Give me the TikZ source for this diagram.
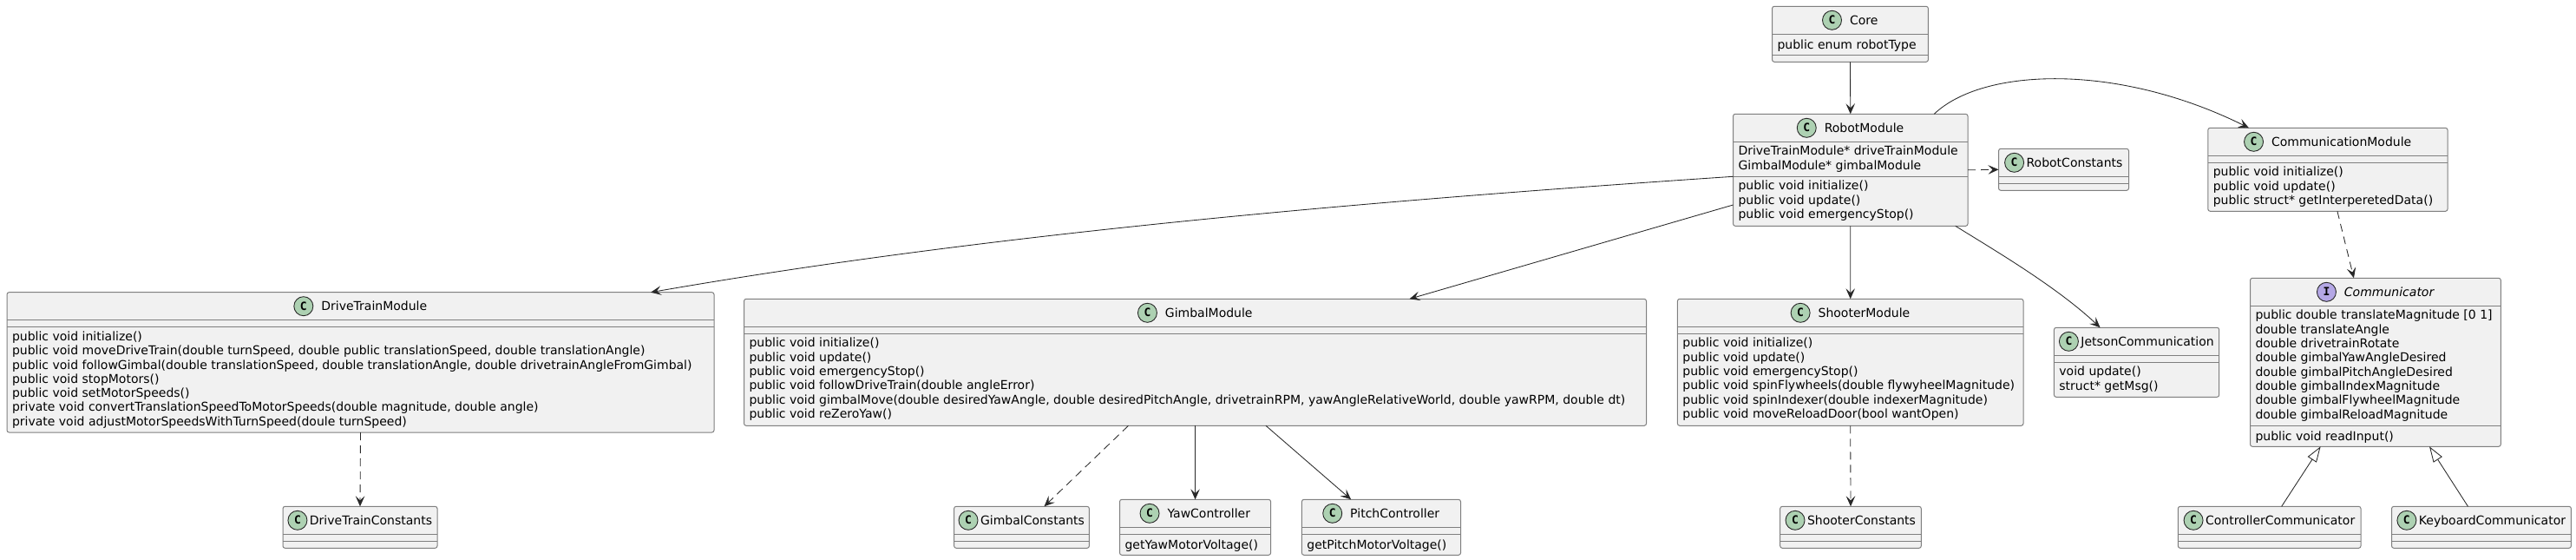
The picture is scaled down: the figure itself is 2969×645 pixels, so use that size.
\documentclass[tikz,border=0pt]{standalone}
\usepackage{fontspec}
\setmainfont{DejaVu Sans}
\newfontfamily\spotfont{DejaVu Sans Mono}
\usetikzlibrary{arrows.meta,positioning}
\definecolor{boxfill}{HTML}{F1F1F1}
\definecolor{boxline}{HTML}{7F7F7F}
\definecolor{inkline}{HTML}{282828}
\definecolor{classgreen}{HTML}{ADD1B2}
\definecolor{ifacepurple}{HTML}{B4A7E5}
\tikzset{
  classbox/.style={draw=boxline,fill=boxfill,line width=1pt,rounded corners=2.5pt,inner sep=0pt,outer sep=0pt},
  classtitle/.style={inner sep=0pt,outer sep=0pt,text height=10.2pt,text depth=0pt,font=\fontsize{14}{16.33}\selectfont},
  classspot/.style={draw=inkline,circle,line width=0.9pt,minimum size=22pt,inner sep=0pt,outer sep=0pt,text height=9.2pt,text depth=0pt,font=\spotfont\bfseries\fontsize{13}{13}\selectfont},
  members/.style={anchor=north west,align=left,inner sep=0pt,outer sep=0pt,font=\fontsize{14}{16.33}\selectfont,execute at begin node={\rule{0pt}{12pt}}},
  sepline/.style={draw=boxline,line width=1pt},
  assoc/.style={draw=inkline,line width=0.85pt,-{Stealth[length=12pt,width=10.5pt,inset=5pt,fill=inkline]}},
  dep/.style={assoc,dash pattern=on 9pt off 6pt},
  inherit/.style={draw=inkline,line width=0.85pt,-{Triangle[open,length=18pt,width=12pt,fill=white]}}
}
\newcommand{\umlclass}[7][9.5]{
  \node[classbox,minimum width={#5-#3},minimum height={#6-#4}] (#2) at ({(#3+#5)/2},{(#4+#6)/2}) {};
  \node[classtitle] (#2title) at ({(#3+#5)/2+(22+#1)/2},{#4+16}) {#7};
  \node[classspot,fill=classgreen,left=#1pt of #2title] (#2spot) {C};
}
\newcommand{\umlseps}[2]{
  \draw[sepline] ([yshift=-32pt]#1.north west) -- ([yshift=-32pt]#1.north east);
  \draw[sepline] ([yshift=-#2pt]#1.north west) -- ([yshift=-#2pt]#1.north east);
}
\newcommand{\umlfields}[2]{\node[members] (#1fields) at ([shift={(6pt,-37pt)}]#1.north west) {#2};}
\newcommand{\umlmethods}[3]{\node[members] (#1methods) at ([shift={(6pt,{-(#2+5)*1pt})}]#1.north west) {#3};}
\begin{document}
\begin{tikzpicture}[x=1pt,y=-1pt]
  \useasboundingbox (0,0) rectangle (2969,645);

  \umlclass{core}{2042.5}{7.3}{2222.4}{71.3}{Core}
  \umlseps{core}{56}
  \umlfields{core}{public enum robotType}

  \umlclass{robot}{1997.5}{131.3}{2268}{260.3}{RobotModule}
  \umlseps{robot}{72}
  \umlfields{robot}{DriveTrainModule* driveTrainModule\\GimbalModule* gimbalModule}
  \umlmethods{robot}{72}{public void initialize()\\public void update()\\public void emergencyStop()}

  \umlclass[3]{robotconst}{2303.5}{171.3}{2453.5}{219.3}{RobotConstants}
  \umlseps{robotconst}{40}

  \umlclass{comm}{2544.8}{147.3}{2821}{243.3}{CommunicationModule}
  \umlseps{comm}{40}
  \umlmethods{comm}{40}{public void initialize()\\public void update()\\public struct* getInterperetedData()}

  \umlclass{drive}{8}{336.7}{823}{498}{DriveTrainModule}
  \umlseps{drive}{40}
  \umlmethods{drive}{40}{public void initialize()\\
    public void moveDriveTrain(double turnSpeed, double public translationSpeed, double translationAngle)\\
    public void followGimbal(double translationSpeed, double translationAngle, double drivetrainAngleFromGimbal)\\
    public void stopMotors()\\
    public void setMotorSpeeds()\\
    private void convertTranslationSpeedToMotorSpeeds(double magnitude, double angle)\\
    private void adjustMotorSpeedsWithTurnSpeed(doule turnSpeed)}

  \umlclass[3]{driveconst}{326}{583.3}{504}{631.3}{DriveTrainConstants}
  \umlseps{driveconst}{40}

  \umlclass{gimbal}{857.5}{344.3}{1897.5}{490.3}{GimbalModule}
  \umlseps{gimbal}{40}
  \umlmethods{gimbal}{40}{public void initialize()\\
    public void update()\\
    public void emergencyStop()\\
    public void followDriveTrain(double angleError)\\
    public void gimbalMove(double desiredYawAngle, double desiredPitchAngle, drivetrainRPM, yawAngleRelativeWorld, double yawRPM, double dt)\\
    public void reZeroYaw()}

  \umlclass[3]{gimbalconst}{1099.6}{583.3}{1255.4}{631.3}{GimbalConstants}
  \umlseps{gimbalconst}{40}

  \umlclass{yaw}{1290.5}{575.3}{1464.6}{639.3}{YawController}
  \umlseps{yaw}{40}
  \umlmethods{yaw}{40}{getYawMotorVoltage()}

  \umlclass{pitch}{1500.4}{575.3}{1683.5}{639.3}{PitchController}
  \umlseps{pitch}{40}
  \umlmethods{pitch}{40}{getPitchMotorVoltage()}

  \umlclass{shooter}{1933.4}{344.3}{2332}{490.3}{ShooterModule}
  \umlseps{shooter}{40}
  \umlmethods{shooter}{40}{public void initialize()\\
    public void update()\\
    public void emergencyStop()\\
    public void spinFlywheels(double flywyheelMagnitude)\\
    public void spinIndexer(double indexerMagnitude)\\
    public void moveReloadDoor(bool wantOpen)}

  \umlclass[3]{shooterconst}{2051.7}{583.3}{2214.3}{631.3}{ShooterConstants}
  \umlseps{shooterconst}{40}

  \umlclass[3]{jetson}{2367.4}{377.3}{2557.7}{457.3}{JetsonCommunication}
  \umlseps{jetson}{40}
  \umlmethods{jetson}{40}{void update()\\struct* getMsg()}

  % interface box
  \node[classbox,minimum width=288.8,minimum height=194] (iface) at (2737.9,417.3) {};
  \node[classtitle,font=\itshape\fontsize{14}{16.33}\selectfont] (ifacetitle) at (2753.6,336.3) {Communicator};
  \node[classspot,fill=ifacepurple,left=9.5pt of ifacetitle] (ifacespot) {I};
  \umlseps{iface}{170}
  \umlfields{iface}{public double translateMagnitude [0 1]\\
    double translateAngle\\
    double drivetrainRotate\\
    double gimbalYawAngleDesired\\
    double gimbalPitchAngleDesired\\
    double gimbalIndexMagnitude\\
    double gimbalFlywheelMagnitude\\
    double gimbalReloadMagnitude}
  \umlmethods{iface}{170}{public void readInput()}

  \umlclass[3]{controller}{2510.3}{583.3}{2721}{631.3}{ControllerCommunicator}
  \umlseps{controller}{40}
  \umlclass[3]{keyboard}{2756.5}{583.3}{2963.4}{631.3}{KeyboardCommunicator}
  \umlseps{keyboard}{40}

  % connectors
  \draw[assoc] (core.south) -- (robot.north);
  \draw[assoc] ([xshift=96.5pt]robot.north) .. controls (2285,78) and (2440,72) .. ([xshift=-91pt]comm.north);
  \draw[dep] (robot.east) -- (robotconst.west);
  \draw[assoc] ([yshift=-7.5pt]robot.west) .. controls (1600,230) and (1150,267) .. ([xshift=334.5pt]drive.north);
  \draw[assoc] ([yshift=-40.2pt]robot.west) -- ([xshift=247pt]gimbal.north);
  \draw[assoc] (robot.south) -- (shooter.north);
  \draw[assoc] ([xshift=121pt]robot.south) .. controls (2300,289) and (2370,330) .. ([xshift=-42pt]jetson.north);
  \draw[dep] ([xshift=11pt]comm.south) -- ([xshift=-25pt]iface.north);
  \draw[dep] (drive.south) -- (driveconst.north);
  \draw[dep] ([xshift=-77pt]gimbal.south) -- ([xshift=26pt]gimbalconst.north);
  \draw[assoc] (yaw.north |- gimbal.south) -- (yaw.north);
  \draw[assoc] ([xshift=81.5pt]gimbal.south) -- ([xshift=-34.8pt]pitch.north);
  \draw[dep] (shooter.south) -- (shooterconst.north);
  \draw[inherit] ([xshift=14pt]controller.north) -- ([xshift=-63.3pt]iface.south);
  \draw[inherit] ([xshift=-15.5pt]keyboard.north) -- ([xshift=62.1pt]iface.south);
\end{tikzpicture}
\end{document}
